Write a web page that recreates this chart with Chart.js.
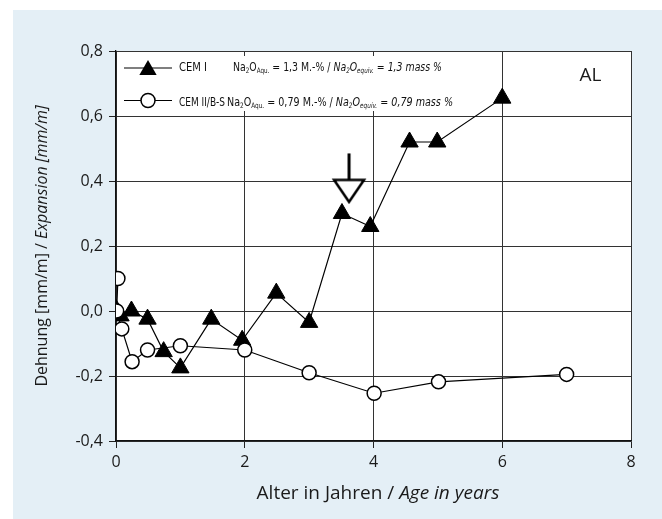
<!DOCTYPE html>
<html>
<head>
<meta charset="utf-8">
<script src="https://cdn.jsdelivr.net/npm/chart.js@4/dist/chart.umd.min.js"></script>
<style>
  html, body { margin: 0; padding: 0; background: #ffffff; }
  #c { display: block; }
</style>
</head>
<body>
<canvas id="c" width="662" height="519"></canvas>
<script>
// ---- data ----
const cem1Age = [0, 0.07, 0.24, 0.49, 0.74, 1.0, 1.48, 1.96, 2.49, 3.0, 3.51, 3.95, 4.56, 4.99, 6.0];
const cem1Exp = [0.005, -0.015, 0.0, -0.025, -0.125, -0.175, -0.025, -0.09, 0.055, -0.035, 0.30, 0.26, 0.52, 0.52, 0.655];
const cem2Age = [0.03, 0.01, 0.09, 0.25, 0.49, 1.0, 2.0, 3.0, 4.01, 5.01, 7.0];
const cem2Exp = [0.1, 0.0, -0.055, -0.156, -0.12, -0.107, -0.12, -0.19, -0.253, -0.218, -0.195];
const arrowAge = [3.62];
const arrowExp = [0.408];
const xTicks = [0, 2, 4, 6, 8];
const yTicks = [-0.4, -0.2, 0.0, 0.2, 0.4, 0.6, 0.8];
const seriesNames = ['CEM I', 'CEM II/B-S'];
const panelLabel = 'AL';
const panelLabelPos = [7.37, 0.723];

const toPts = (xs, ys) => xs.map((x, i) => ({ x: x, y: ys[i] }));

const MAIN_FONT = "'Open Sans', 'DejaVu Sans', sans-serif";
const COND_FONT = "'Liberation Sans Narrow', 'DejaVu Sans Condensed', 'Roboto Condensed', 'Open Sans', sans-serif";
const TXT = '#1a1a1a';

// Arrow marker image (hollow downward triangle with a stem)
const arrowImg = document.createElement('canvas');
arrowImg.width = 38; arrowImg.height = 52;
(function () {
  const g = arrowImg.getContext('2d');
  g.strokeStyle = '#000';
  g.lineWidth = 3;
  g.beginPath(); g.moveTo(19, 1); g.lineTo(19, 27.5); g.stroke();
  g.lineWidth = 2.5;
  g.fillStyle = '#fff';
  g.beginPath();
  g.moveTo(4, 27.5); g.lineTo(34, 27.5); g.lineTo(19, 49.5); g.closePath();
  g.fill(); g.stroke();
})();

function drawRich(ctx, segs, x, baseline, targetW) {
  // segs: [text, sizePx, italic, sub]
  let w = 0;
  segs.forEach(s => {
    ctx.font = (s[2] ? 'italic ' : '') + s[1] + 'px ' + COND_FONT;
    w += ctx.measureText(s[0]).width;
  });
  const k = targetW ? targetW / w : 1;
  ctx.save();
  ctx.translate(x, baseline);
  ctx.scale(k, 1);
  let cx = 0;
  segs.forEach(s => {
    ctx.font = (s[2] ? 'italic ' : '') + s[1] + 'px ' + COND_FONT;
    ctx.fillText(s[0], cx, s[3] ? 2.5 : 0);
    cx += ctx.measureText(s[0]).width;
  });
  ctx.restore();
}

function mixedWidth(ctx, parts, size) {
  let w = 0;
  parts.forEach(p => { ctx.font = (p[1] ? 'italic ' : '') + size + 'px ' + MAIN_FONT; w += ctx.measureText(p[0]).width; });
  return w;
}
function drawMixed(ctx, parts, x, y, size) {
  let cx = x;
  parts.forEach(p => {
    ctx.font = (p[1] ? 'italic ' : '') + size + 'px ' + MAIN_FONT;
    ctx.fillText(p[0], cx, y);
    cx += ctx.measureText(p[0]).width;
  });
}

const decor = {
  id: 'decor',
  beforeDraw(chart) {
    const ctx = chart.ctx, a = chart.chartArea;
    ctx.save();
    ctx.fillStyle = '#e4eff6';
    ctx.fillRect(13, 10, chart.width - 13, chart.height - 10);
    ctx.fillStyle = '#ffffff';
    ctx.fillRect(a.left, a.top, a.right - a.left, a.bottom - a.top);
    ctx.restore();
  },
  beforeDatasetsDraw(chart) {
    const ctx = chart.ctx, a = chart.chartArea;
    const xs = chart.scales.x, ys = chart.scales.y;
    ctx.save();
    // legend box (white, hides gridlines except short stubs)
    const lx0 = a.left + 1, lx1 = xs.getPixelForValue(6) - 1;
    const ly0 = ys.getPixelForValue(0.8) + 5, ly1 = ys.getPixelForValue(0.6) - 5;
    ctx.fillStyle = '#fff';
    ctx.fillRect(lx0, ly0, lx1 - lx0, ly1 - ly0);
    ctx.restore();
  },
  afterDraw(chart) {
    const ctx = chart.ctx, a = chart.chartArea;
    const xs = chart.scales.x, ys = chart.scales.y;
    ctx.save();
    ctx.fillStyle = TXT;
    ctx.textBaseline = 'alphabetic';
    ctx.textAlign = 'left';

    // legend samples
    ctx.strokeStyle = '#000';
    ctx.lineWidth = 1.2;
    ctx.beginPath(); ctx.moveTo(124, 68); ctx.lineTo(172, 68); ctx.stroke();
    ctx.beginPath(); ctx.moveTo(124, 100.5); ctx.lineTo(172, 100.5); ctx.stroke();
    // triangle
    const r = 10, tcx = 148, tcy = 70;
    ctx.fillStyle = '#000';
    ctx.beginPath();
    ctx.moveTo(tcx, tcy - r);
    ctx.lineTo(tcx + r * Math.sin(2 * Math.PI / 3), tcy - r * Math.cos(2 * Math.PI / 3));
    ctx.lineTo(tcx + r * Math.sin(4 * Math.PI / 3), tcy - r * Math.cos(4 * Math.PI / 3));
    ctx.closePath(); ctx.fill();
    // circle
    ctx.fillStyle = '#fff';
    ctx.lineWidth = 1.5;
    ctx.beginPath(); ctx.arc(148, 100.5, 7, 0, Math.PI * 2); ctx.fill(); ctx.stroke();

    ctx.fillStyle = '#111';
    drawRich(ctx, [[seriesNames[0], 12.5, false, false]], 179, 70.7, 28);
    drawRich(ctx, [[seriesNames[1], 12.5, false, false]], 179, 105.7, 46);
    drawRich(ctx, [
      ['Na', 12.5, false, false], ['2', 7.5, false, true], ['O', 12.5, false, false], ['Aqu.', 7.5, false, true],
      [' = 1,3 M.-% / ', 12.5, false, false],
      ['Na', 12.5, true, false], ['2', 7.5, true, true], ['O', 12.5, true, false], ['equiv.', 7.5, true, true],
      [' = 1,3 mass %', 12.5, true, false]
    ], 233, 70.7, 209);
    drawRich(ctx, [
      ['Na', 12.5, false, false], ['2', 7.5, false, true], ['O', 12.5, false, false], ['Aqu.', 7.5, false, true],
      [' = 0,79 M.-% / ', 12.5, false, false],
      ['Na', 12.5, true, false], ['2', 7.5, true, true], ['O', 12.5, true, false], ['equiv.', 7.5, true, true],
      [' = 0,79 mass %', 12.5, true, false]
    ], 227, 105.7, 226);

    // panel label
    ctx.fillStyle = TXT;
    ctx.font = '19px ' + MAIN_FONT;
    ctx.textAlign = 'center';
    ctx.textBaseline = 'middle';
    ctx.fillText(panelLabel, xs.getPixelForValue(panelLabelPos[0]), ys.getPixelForValue(panelLabelPos[1]));

    // axis titles
    ctx.textAlign = 'left';
    ctx.textBaseline = 'alphabetic';
    const xParts = [['Alter in Jahren / ', false], ['Age in years', true]];
    const xw = mixedWidth(ctx, xParts, 19);
    drawMixed(ctx, xParts, 378 - xw / 2, 498.5, 19);

    ctx.textBaseline = 'middle';
    const yParts = [['Dehnung [mm/m] / ', false], ['Expansion [mm/m]', true]];
    const yw = mixedWidth(ctx, yParts, 16);
    ctx.translate(42, (a.top + a.bottom) / 2);
    ctx.rotate(-Math.PI / 2);
    drawMixed(ctx, yParts, -yw / 2, 0, 16);
    ctx.restore();
  }
};

new Chart(document.getElementById('c'), {
  type: 'scatter',
  data: {
    datasets: [
      {
        label: 'arrow',
        data: toPts(arrowAge, arrowExp),
        pointStyle: arrowImg,
        pointRadius: 20,
        showLine: false
      },
      {
        label: seriesNames[1],
        data: toPts(cem2Age, cem2Exp),
        showLine: true,
        borderColor: '#000',
        borderWidth: 1.2,
        pointStyle: 'circle',
        pointRadius: 7,
        pointBorderWidth: 1.5,
        pointBorderColor: '#000',
        pointBackgroundColor: '#fff',
        tension: 0
      },
      {
        label: seriesNames[0],
        data: toPts(cem1Age, cem1Exp),
        showLine: true,
        borderColor: '#000',
        borderWidth: 1.2,
        pointStyle: 'triangle',
        pointRadius: 10,
        pointBorderWidth: 1,
        pointBorderColor: '#000',
        pointBackgroundColor: '#000',
        tension: 0
      }
    ]
  },
  options: {
    responsive: false,
    animation: false,
    devicePixelRatio: 1,
    layout: { padding: { top: 51, right: 31, left: 0, bottom: 0 } },
    plugins: { legend: { display: false }, tooltip: { enabled: false } },
    scales: {
      x: {
        type: 'linear',
        min: xTicks[0], max: xTicks[xTicks.length - 1],
        afterBuildTicks(s) { s.ticks = xTicks.map(v => ({ value: v })); },
        afterFit(s) { s.height = 78; },
        ticks: {
          color: TXT, padding: 5,
          font: { family: MAIN_FONT, size: 16 },
          callback: v => String(v)
        },
        grid: { color: '#333', lineWidth: 1, tickLength: 7, tickColor: '#222' },
        border: { color: '#111', width: 1.3 }
      },
      y: {
        type: 'linear',
        min: yTicks[0], max: yTicks[yTicks.length - 1],
        afterBuildTicks(s) { s.ticks = yTicks.map(v => ({ value: v })); },
        afterFit(s) { s.width = 116; },
        ticks: {
          color: TXT, padding: 6,
          font: { family: MAIN_FONT, size: 16 },
          callback: v => (Math.round(v * 10) / 10).toFixed(1).replace('.', ',')
        },
        grid: { color: '#333', lineWidth: 1, tickLength: 7, tickColor: '#222' },
        border: { color: '#111', width: 1.3 }
      }
    }
  },
  plugins: [decor]
});
</script>
</body>
</html>
